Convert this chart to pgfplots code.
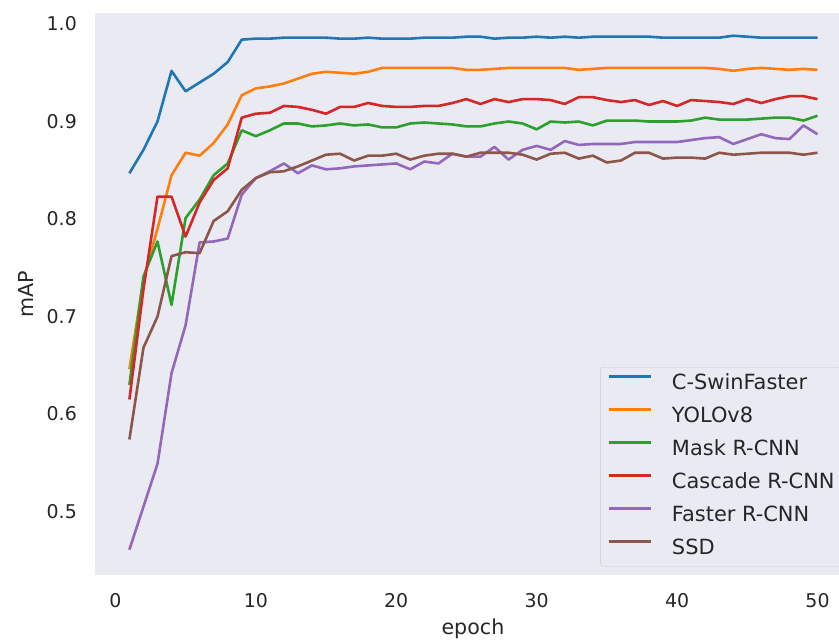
\documentclass[border=0pt]{standalone}
\usepackage{fontspec}
\setmainfont{DejaVu Sans}
\usepackage{pgfplots}
\pgfplotsset{compat=1.18}
\definecolor{bg}{HTML}{EAEAF2}
\definecolor{lbl}{HTML}{262626}
\definecolor{legedge}{HTML}{CCCCCC}
\definecolor{c0}{HTML}{1F77B4}
\definecolor{c1}{HTML}{FF7F0E}
\definecolor{c2}{HTML}{2CA02C}
\definecolor{c3}{HTML}{D62728}
\definecolor{c4}{HTML}{9467BD}
\definecolor{c5}{HTML}{8C564B}
\begin{document}
\begin{tikzpicture}
\begin{axis}[
  name=ax, scale only axis, width=744bp, height=562bp,
  xmin=-1.45, xmax=51.53, ymin=0.435, ymax=1.0113,
  axis background/.style={fill=bg},
  axis line style={draw=none},
  major tick length=0pt,
  xtick={0,10,20,30,40,50},
  ytick={0.5,0.6,0.7,0.8,0.9,1.0},
  /pgf/number format/assume math mode=true,
  font=\fontsize{19}{23}\selectfont,
  tick label style={text=lbl, font=\fontsize{19}{23}\selectfont},
  yticklabel style={/pgf/number format/fixed, /pgf/number format/fixed zerofill, /pgf/number format/precision=1, anchor=east, inner sep=0pt, xshift=-18bp},
  xticklabel style={anchor=north, inner sep=0pt, yshift=-18bp},
  xlabel={epoch}, ylabel={mAP},
  xlabel style={at={(axis description cs:0.508,-0.105)}, anchor=base, text=lbl, inner sep=0pt, font=\fontsize{20.7}{24}\selectfont},
  ylabel style={at={(axis description cs:-0.0833,0.5)}, anchor=base, text=lbl, inner sep=0pt, font=\fontsize{20.7}{24}\selectfont},
  legend cell align=left,
  legend style={at={(0.679,0.370)}, anchor=north west, draw=legedge, fill=bg, rounded corners=3bp,
    inner xsep=7bp, inner ysep=7bp, row sep=13bp, column sep=20bp,
    nodes={inner sep=0pt, text height=15.5bp, text depth=4.5bp, text=lbl},
    font=\fontsize{21}{25}\selectfont},
  legend image code/.code={\draw[#1, line width=2.6bp] (0bp,7.7bp) -- (42bp,7.7bp);},
  every axis plot/.append style={line width=2.6bp, line join=round, mark=none},
]
\addplot[c0] coordinates {(1,0.847)(2,0.871)(3,0.900)(4,0.952)(5,0.931)(6,0.940)(7,0.949)(8,0.961)(9,0.984)(10,0.985)
(11,0.985)(12,0.986)(13,0.986)(14,0.986)(15,0.986)(16,0.985)(17,0.985)(18,0.986)(19,0.985)(20,0.985)
(21,0.985)(22,0.986)(23,0.986)(24,0.986)(25,0.987)(26,0.987)(27,0.985)(28,0.986)(29,0.986)(30,0.987)
(31,0.986)(32,0.987)(33,0.986)(34,0.987)(35,0.987)(36,0.987)(37,0.987)(38,0.987)(39,0.986)(40,0.986)
(41,0.986)(42,0.986)(43,0.986)(44,0.988)(45,0.987)(46,0.986)(47,0.986)(48,0.986)(49,0.986)(50,0.986)};
\addlegendentry{C-SwinFaster}
\addplot[c1] coordinates {(1,0.646)(2,0.738)(3,0.790)(4,0.845)(5,0.868)(6,0.865)(7,0.878)(8,0.897)(9,0.927)(10,0.934)
(11,0.936)(12,0.939)(13,0.944)(14,0.949)(15,0.951)(16,0.950)(17,0.949)(18,0.951)(19,0.955)(20,0.955)
(21,0.955)(22,0.955)(23,0.955)(24,0.955)(25,0.953)(26,0.953)(27,0.954)(28,0.955)(29,0.955)(30,0.955)
(31,0.955)(32,0.955)(33,0.953)(34,0.954)(35,0.955)(36,0.955)(37,0.955)(38,0.955)(39,0.955)(40,0.955)
(41,0.955)(42,0.955)(43,0.954)(44,0.952)(45,0.954)(46,0.955)(47,0.954)(48,0.953)(49,0.954)(50,0.953)};
\addlegendentry{YOLOv8}
\addplot[c2] coordinates {(1,0.630)(2,0.741)(3,0.777)(4,0.712)(5,0.801)(6,0.820)(7,0.845)(8,0.857)(9,0.891)(10,0.885)
(11,0.891)(12,0.898)(13,0.898)(14,0.895)(15,0.896)(16,0.898)(17,0.896)(18,0.897)(19,0.894)(20,0.894)
(21,0.898)(22,0.899)(23,0.898)(24,0.897)(25,0.895)(26,0.895)(27,0.898)(28,0.900)(29,0.898)(30,0.892)
(31,0.900)(32,0.899)(33,0.900)(34,0.896)(35,0.901)(36,0.901)(37,0.901)(38,0.900)(39,0.900)(40,0.900)
(41,0.901)(42,0.904)(43,0.902)(44,0.902)(45,0.902)(46,0.903)(47,0.904)(48,0.904)(49,0.901)(50,0.906)};
\addlegendentry{Mask R-CNN}
\addplot[c3] coordinates {(1,0.615)(2,0.728)(3,0.823)(4,0.823)(5,0.782)(6,0.817)(7,0.840)(8,0.852)(9,0.904)(10,0.908)
(11,0.909)(12,0.916)(13,0.915)(14,0.912)(15,0.908)(16,0.915)(17,0.915)(18,0.919)(19,0.916)(20,0.915)
(21,0.915)(22,0.916)(23,0.916)(24,0.919)(25,0.923)(26,0.918)(27,0.923)(28,0.920)(29,0.923)(30,0.923)
(31,0.922)(32,0.918)(33,0.925)(34,0.925)(35,0.922)(36,0.920)(37,0.922)(38,0.917)(39,0.921)(40,0.916)
(41,0.922)(42,0.921)(43,0.920)(44,0.918)(45,0.923)(46,0.919)(47,0.923)(48,0.926)(49,0.926)(50,0.923)};
\addlegendentry{Cascade R-CNN}
\addplot[c4] coordinates {(1,0.461)(2,0.505)(3,0.549)(4,0.642)(5,0.691)(6,0.776)(7,0.777)(8,0.780)(9,0.825)(10,0.842)
(11,0.849)(12,0.857)(13,0.847)(14,0.855)(15,0.851)(16,0.852)(17,0.854)(18,0.855)(19,0.856)(20,0.857)
(21,0.851)(22,0.859)(23,0.857)(24,0.867)(25,0.864)(26,0.864)(27,0.874)(28,0.861)(29,0.871)(30,0.875)
(31,0.871)(32,0.880)(33,0.876)(34,0.877)(35,0.877)(36,0.877)(37,0.879)(38,0.879)(39,0.879)(40,0.879)
(41,0.881)(42,0.883)(43,0.884)(44,0.877)(45,0.882)(46,0.887)(47,0.883)(48,0.882)(49,0.896)(50,0.887)};
\addlegendentry{Faster R-CNN}
\addplot[c5] coordinates {(1,0.574)(2,0.668)(3,0.700)(4,0.762)(5,0.766)(6,0.765)(7,0.798)(8,0.808)(9,0.830)(10,0.842)
(11,0.848)(12,0.849)(13,0.854)(14,0.860)(15,0.866)(16,0.867)(17,0.860)(18,0.865)(19,0.865)(20,0.867)
(21,0.861)(22,0.865)(23,0.867)(24,0.867)(25,0.864)(26,0.868)(27,0.868)(28,0.868)(29,0.866)(30,0.861)
(31,0.867)(32,0.868)(33,0.862)(34,0.865)(35,0.858)(36,0.860)(37,0.868)(38,0.868)(39,0.862)(40,0.863)
(41,0.863)(42,0.862)(43,0.868)(44,0.866)(45,0.867)(46,0.868)(47,0.868)(48,0.868)(49,0.866)(50,0.868)};
\addlegendentry{SSD}
\end{axis}
\pgfresetboundingbox
\path[use as bounding box] ([xshift=-95bp,yshift=-68bp]ax.south west) rectangle ([yshift=13bp]ax.north east);
\end{tikzpicture}
\end{document}
